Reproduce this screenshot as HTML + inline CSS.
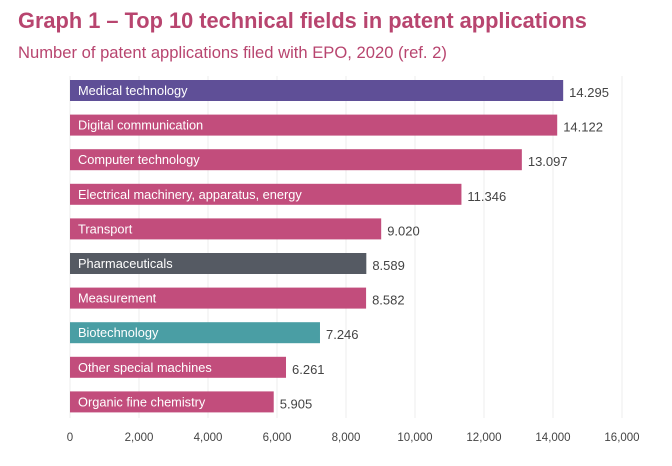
<!DOCTYPE html>
<html><head><meta charset="utf-8"><style>
body{margin:0;background:#fff;width:672px;height:461px;overflow:hidden;font-family:"Liberation Sans",sans-serif}
</style></head><body>
<svg width="672" height="461">
<text x="18" y="28" font-size="21.8" font-weight="bold" fill="#b8456f">Graph 1 – Top 10 technical fields in patent applications</text>
<text x="18" y="58" font-size="16.6" fill="#b8456f">Number of patent applications filed with EPO, 2020 (ref. 2)</text>
<g id="grid"></g><g id="bars"></g><g id="ticks"></g>
</svg>
<script>
const categories=["Medical technology","Digital communication","Computer technology","Electrical machinery, apparatus, energy","Transport","Pharmaceuticals","Measurement","Biotechnology","Other special machines","Organic fine chemistry"];
const values=[14295,14122,13097,11346,9020,8589,8582,7246,6261,5905];
const valueLabels=["14.295","14.122","13.097","11.346","9.020","8.589","8.582","7.246","6.261","5.905"];
const barColors=["#5f4f97","#c24d7c","#c24d7c","#c24d7c","#c24d7c","#555a63","#c24d7c","#4a9ea4","#c24d7c","#c24d7c"];
const tickValues=[0,2000,4000,6000,8000,10000,12000,14000,16000];
const tickLabels=["0","2,000","4,000","6,000","8,000","10,000","12,000","14,000","16,000"];
const NS="http://www.w3.org/2000/svg";
const x=v=>70+v*0.0345;
const y=i=>80+i*34.6;
function mk(t,a,p){const e=document.createElementNS(NS,t);for(const k in a)e.setAttribute(k,a[k]);p.appendChild(e);return e;}
const g=document.getElementById('grid'),b=document.getElementById('bars'),tk=document.getElementById('ticks');
tickValues.forEach((v,i)=>{
 const l=mk('line',{x1:x(v),x2:x(v),y1:76,y2:418,stroke:'#ececec','stroke-width':1},g);
 
 
 const t=mk('text',{x:x(v),y:441,'font-size':11.5,fill:'#444','text-anchor':'middle'},tk);
 t.textContent=tickLabels[i];
 
 
});
categories.forEach((c,i)=>{
 const r=mk('rect',{x:x(0),y:y(i),width:x(values[i])-x(0),height:21,fill:barColors[i]},b);
 
 
 const t=mk('text',{x:78,y:y(i)+15,'font-size':12.8,fill:'#fff'},b);
 t.textContent=c;
 
 
 const vt=mk('text',{x:x(values[i])+6,y:y(i)+17,'font-size':13,fill:'#444'},b);
 vt.textContent=valueLabels[i];
 
 
});
</script>
</body></html>
